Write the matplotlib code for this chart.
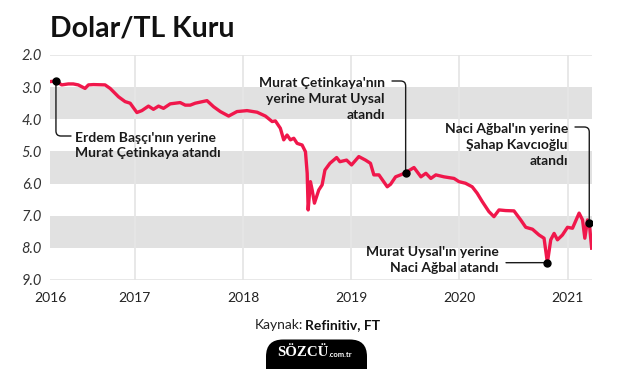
import numpy as np
import matplotlib
matplotlib.use("Agg")
import matplotlib.pyplot as plt
from matplotlib.patches import FancyBboxPatch
from matplotlib.transforms import IdentityTransform

# ---- data (decimal years, USD/TRY) ----
dates = [2016.21, 2016.271, 2016.324, 2016.385, 2016.431, 2016.477, 2016.540, 2016.571,
         2016.617, 2016.725, 2016.772, 2016.849, 2016.910, 2016.957, 2017.019, 2017.065,
         2017.126, 2017.172, 2017.219, 2017.265, 2017.327, 2017.419, 2017.466, 2017.512,
         2017.558, 2017.667, 2017.728, 2017.790, 2017.867, 2017.944, 2018.037, 2018.130,
         2018.207, 2018.269, 2018.299, 2018.345, 2018.376, 2018.407, 2018.438, 2018.469,
         2018.500, 2018.546, 2018.577, 2018.593, 2018.602, 2018.623, 2018.639, 2018.660,
         2018.700, 2018.731, 2018.757, 2018.803, 2018.865, 2018.895, 2018.957, 2019.003,
         2019.070, 2019.132, 2019.178, 2019.209, 2019.256, 2019.333, 2019.364, 2019.410,
         2019.456, 2019.503, 2019.580, 2019.644, 2019.690, 2019.736, 2019.782, 2019.857,
         2019.950, 2019.996, 2020.056, 2020.118, 2020.164, 2020.211, 2020.272, 2020.319,
         2020.366, 2020.427, 2020.504, 2020.566, 2020.613, 2020.675, 2020.736, 2020.782,
         2020.813, 2020.844, 2020.875, 2020.906, 2020.952, 2020.999, 2021.045, 2021.106,
         2021.138, 2021.159, 2021.184, 2021.200, 2021.222]
usdtry = [2.83, 2.81, 2.93, 2.90, 2.90, 2.93, 3.04, 2.93,
          2.92, 2.93, 3.04, 3.30, 3.45, 3.50, 3.79, 3.73,
          3.59, 3.69, 3.59, 3.66, 3.52, 3.48, 3.56, 3.56,
          3.50, 3.42, 3.61, 3.76, 3.90, 3.76, 3.73, 3.78,
          3.90, 4.07, 4.05, 4.28, 4.64, 4.49, 4.64, 4.59,
          4.75, 4.80, 5.01, 5.68, 6.82, 5.94, 6.20, 6.61,
          6.20, 6.04, 5.58, 5.37, 5.19, 5.32, 5.27, 5.42,
          5.16, 5.27, 5.37, 5.73, 5.73, 6.10, 6.02, 5.79,
          5.73, 5.66, 5.50, 5.79, 5.68, 5.84, 5.73, 5.79,
          5.84, 5.94, 5.99, 6.10, 6.30, 6.56, 6.87, 7.03,
          6.82, 6.84, 6.85, 7.13, 7.36, 7.42, 7.60, 7.70,
          8.46, 7.75, 7.55, 7.75, 7.60, 7.36, 7.39, 6.92,
          7.13, 7.70, 7.13, 7.22, 8.01]

year_ticks = [2016, 2017, 2018, 2019, 2020, 2021]
year_labels = ["2016", "2017", "2018", "2019", "2020", "2021"]
y_ticks = [2, 3, 4, 5, 6, 7, 8, 9]
bands = [(3, 4), (5, 6), (7, 8)]

event_dates = [2016.271, 2019.503, 2021.200, 2020.813]
event_labels = ["Erdem Başçı'nın yerine\nMurat Çetinkaya atandı",
                "Murat Çetinkaya'nın\nyerine Murat Uysal\natandı",
                "Naci Ağbal'ın yerine\nŞahap Kavcıoğlu\natandı",
                "Murat Uysal'ın yerine\nNaci Ağbal atandı"]

FONT = "Lato"
RED = "#f0174b"
W, H = 635, 369

fig = plt.figure(figsize=(W / 100, H / 100), dpi=100)
fig.patch.set_facecolor("white")
x0, x1 = 2016.216, 2021.2225
ax = fig.add_axes([50 / W, (H - 280) / H, (591.7 - 50) / W, 225 / H])
ax.set_xlim(x0, x1)
ax.set_ylim(9, 2)
for s in ax.spines.values():
    s.set_visible(False)

for lo, hi in bands:
    ax.axhspan(lo, hi, color="#e1e1e1", lw=0, zorder=0)
for yv in (2, 9):
    ax.axhline(yv, color="#e4e4e4", lw=1.2, zorder=0.5)
for yr in year_ticks[1:]:
    ax.axvline(yr, color="#e6e6e6", lw=1.3, zorder=0.3)

ax.plot(dates, usdtry, color=RED, lw=2.4, zorder=3, solid_joinstyle="round")

ax.set_yticks(y_ticks)
ax.set_yticklabels([f"{v:.1f}" for v in y_ticks], fontstyle="italic",
                   fontsize=10.5, color="#333333", family=FONT)
xt = [x0] + year_ticks[1:]
ax.set_xticks(xt)
ax.set_xticklabels(year_labels, fontsize=10, color="#222222", family=FONT)
ax.tick_params(axis="y", length=0, pad=6)
ax.tick_params(axis="x", length=0, pad=9)

ev_vals = np.interp(event_dates, dates, usdtry)
ax.plot(event_dates, ev_vals, "o", color="black", ms=5, zorder=5)

txt_kw = dict(fontsize=10, fontweight="bold", family=FONT, color="#1a1a1a",
              linespacing=1.38)
# text anchors in figure pixels (x, y_from_top), alignment, leader start
layout = [
    ((75, 145.5), "left", (71, 136), "angle,angleA=0,angleB=90,rad=5"),
    ((385, 99), "right", (392, 81), "angle,angleA=0,angleB=90,rad=5"),
    ((568, 145), "right", (575, 127), "angle,angleA=0,angleB=90,rad=5"),
    ((499, 260), "right", (506, 262.7), "arc3"),
]
for (d, v, lab, (tpos, ha, lpos, cs)) in zip(event_dates, ev_vals, event_labels, layout):
    fig.text(tpos[0] / W, 1 - tpos[1] / H, lab, ha=ha, va="center",
             multialignment=ha, **txt_kw)
    ax.annotate("", xy=(d, v), xycoords="data",
                xytext=(lpos[0], H - lpos[1]), textcoords="figure pixels",
                arrowprops=dict(arrowstyle="-", connectionstyle=cs, color="#1a1a1a",
                                lw=1.0, shrinkA=0, shrinkB=0), zorder=4)

fig.text(50 / W, 1 - 29 / H, "Dolar/TL Kuru", fontsize=20.5, fontweight="bold",
         family=FONT, color="#111111", ha="left", va="center")

fig.text(303 / W, 1 - 325 / H, "Kaynak:", fontsize=10, family=FONT,
         color="#222222", ha="right", va="center")
fig.text(305 / W, 1 - 325 / H, "Refinitiv, FT", fontsize=10, fontweight="bold",
         family=FONT, color="#111111", ha="left", va="center")

logo = FancyBboxPatch((266, -20), 101, H - 339.5 + 20,
                      boxstyle="round,pad=0,rounding_size=17",
                      transform=IdentityTransform(), facecolor="black",
                      edgecolor="none")
fig.add_artist(logo)
fig.text(277 / W, 1 - 352 / H, "SÖZCÜ", fontsize=10.7, fontweight="bold",
         family="Liberation Serif", color="white", ha="left", va="center")
fig.text(329 / W, 1 - 354.5 / H, ".com.tr", fontsize=5.5, fontweight="bold",
         family=FONT, color="white", ha="left", va="center")

fig.savefig("out.png", dpi=100, facecolor="white")
